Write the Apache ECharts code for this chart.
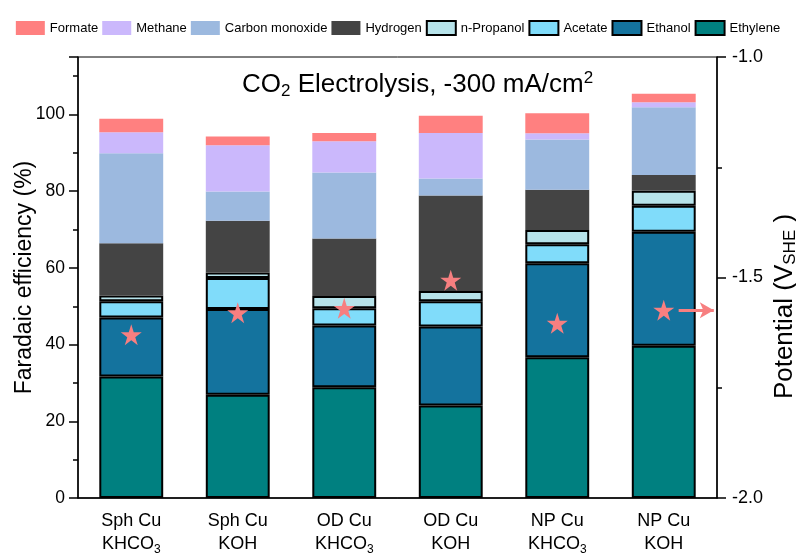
<!DOCTYPE html>
<html>
<head>
<meta charset="utf-8">
<script src="https://cdn.jsdelivr.net/npm/echarts@6/dist/echarts.min.js"></script>
<style>
  html, body { margin: 0; padding: 0; background: #fff; }
  #chart { width: 796px; height: 559px; }
</style>
</head>
<body>
<div id="chart"></div>
<script>
// Catalyst / electrolyte pairs along the x axis
const catalysts   = ['Sph Cu', 'Sph Cu', 'OD Cu', 'OD Cu', 'NP Cu', 'NP Cu'];
const electrolytes = ['KHCO3', 'KOH', 'KHCO3', 'KOH', 'KHCO3', 'KOH'];

// Faradaic efficiency (%) of each product, stacked bottom to top
const ethylene   = [31.7, 26.9, 28.9, 24.1, 36.7, 39.7];
const ethanol    = [15.4, 22.4, 16.1, 20.6, 24.5, 29.7];
const acetate    = [4.2, 8.1, 4.5, 6.6, 5.0, 6.8];
const nPropanol  = [1.5, 1.4, 3.2, 2.7, 3.7, 3.9];
const hydrogen   = [13.6, 13.5, 15.0, 24.9, 10.5, 4.1];
const carbonMono = [23.5, 7.6, 17.2, 4.4, 13.1, 17.7];
const methane    = [5.5, 12.1, 8.1, 11.9, 1.6, 1.3];
const formate    = [3.5, 2.3, 2.2, 4.5, 5.2, 2.2];

// Cathode potential (V vs SHE) for each condition
const potentials = [-1.63, -1.58, -1.57, -1.506, -1.604, -1.574];

// Axis tick settings
const feTicks = { min: 0, max: 115, interval: 20 };
const potTicks = { min: -2.0, max: -1.0, interval: 0.5 };

const FONT = 'Liberation Sans, Arial, sans-serif';
const STAR = 'path://M50,0 L61.2,34.5 L97.6,34.5 L68.2,55.9 L79.4,90.5 L50,69.1 L20.6,90.5 L31.8,55.9 L2.4,34.5 L38.8,34.5 Z';

function subscriptDigits(s) {
  // chemical formula digits become subscript tokens
  return s.replace(/(\d)/g, '}{s|$1}{n|');
}

const categories = catalysts.map((c, i) => c + '|' + electrolytes[i]);

const stackDefs = [
  { name: 'Ethylene',        data: ethylene,   color: '#008080', border: true },
  { name: 'Ethanol',         data: ethanol,    color: '#14739e', border: true },
  { name: 'Acetate',         data: acetate,    color: '#80dcfa', border: true },
  { name: 'n-Propanol',      data: nPropanol,  color: '#b7e3ea', border: true },
  { name: 'Hydrogen',        data: hydrogen,   color: '#444444', border: false },
  { name: 'Carbon monoxide', data: carbonMono, color: '#9cb9df', border: false },
  { name: 'Methane',         data: methane,    color: '#cbb8fc', border: false },
  { name: 'Formate',         data: formate,    color: '#ff8080', border: false }
];

const barSeries = stackDefs.map(d => ({
  name: d.name,
  type: 'bar',
  stack: 'fe',
  barWidth: '60%',
  xAxisIndex: 0,
  yAxisIndex: 0,
  data: d.data,
  itemStyle: {
    color: d.color,
    borderColor: d.border ? '#000' : d.color,
    borderWidth: d.border ? 2 : 0
  },
  emphasis: { disabled: true }
}));

const tickStyle = { color: '#000', width: 1.5 };

const chart = echarts.init(document.getElementById('chart'), null, { renderer: 'canvas' });

chart.setOption({
  animation: false,
  backgroundColor: '#fff',
  textStyle: { fontFamily: FONT, color: '#000' },
  title: {
    text: '{n|CO}{s|2}{n| Electrolysis, -300 mA/cm}{p|2}',
    left: 237,
    top: 64,
    textStyle: {
      fontWeight: 'normal',
      rich: {
        n: { fontFamily: FONT, fontSize: 26, fontWeight: 'normal', color: '#000' },
        s: { fontFamily: FONT, fontSize: 17, fontWeight: 'normal', color: '#000', padding: [14, 0, 0, 0] },
        p: { fontFamily: FONT, fontSize: 17, fontWeight: 'normal', color: '#000', padding: [0, 0, 12, 0] }
      }
    }
  },
  legend: {
    top: 15,
    left: 'center',
    itemWidth: 29,
    itemHeight: 14,
    itemGap: 4,
    icon: 'rect',
    textStyle: { fontFamily: FONT, fontSize: 13, color: '#000' },
    data: ['Formate', 'Methane', 'Carbon monoxide', 'Hydrogen', 'n-Propanol', 'Acetate', 'Ethanol', 'Ethylene']
  },
  grid: {
    left: 78, right: 79, top: 57, bottom: 61,
    containLabel: false,
    outerBoundsMode: 'none',
    show: true, borderColor: '#000', borderWidth: 1
  },
  xAxis: [
    {
      type: 'category',
      data: categories,
      axisLine: { onZero: false, lineStyle: { color: '#000', width: 1.5 } },
      axisTick: { alignWithLabel: true, length: 8, lineStyle: tickStyle },
      axisLabel: {
        interval: 0,
        margin: 12,
        color: '#000',
        lineHeight: 23,
        formatter: v => {
          const [c, e] = v.split('|');
          return '{n|' + c + '}\n{n|' + subscriptDigits(e) + '}';
        },
        rich: {
          n: { fontFamily: FONT, fontSize: 18, color: '#000', lineHeight: 23 },
          s: { fontFamily: FONT, fontSize: 12, color: '#000', lineHeight: 23, padding: [10, 0, 0, 0] }
        }
      }
    },
    {
      type: 'category',
      data: categories,
      position: 'bottom',
      axisLine: { show: false, onZero: false },
      axisTick: { interval: 0, length: 4, lineStyle: tickStyle },
      axisLabel: { show: false }
    },
    {
      type: 'value',
      min: -0.5,
      max: 5.5,
      show: false,
      axisLine: { onZero: false }
    }
  ],
  yAxis: [
    {
      type: 'value',
      min: feTicks.min,
      max: feTicks.max,
      interval: feTicks.interval,
      name: 'Faradaic efficiency (%)',
      nameLocation: 'middle',
      nameRotate: 90,
      nameGap: 42,
      nameMoveOverlap: false,
      nameTextStyle: { fontFamily: FONT, fontSize: 23, color: '#000' },
      axisLine: { show: true, onZero: false, lineStyle: { color: '#000', width: 1.5 } },
      axisTick: { show: true, length: 9, lineStyle: tickStyle },
      minorTick: { show: true, splitNumber: 2, length: 5, lineStyle: tickStyle },
      splitLine: { show: false },
      axisLabel: {
        fontFamily: FONT, fontSize: 17.5, color: '#000', margin: 13,
        formatter: v => (v % feTicks.interval === 0 ? String(v) : '')
      }
    },
    {
      type: 'value',
      min: potTicks.min,
      max: potTicks.max,
      interval: potTicks.interval,
      position: 'right',
      name: 'Potential (V{s|SHE} )',
      nameLocation: 'middle',
      nameRotate: 90,
      nameGap: 54,
      nameMoveOverlap: false,
      nameTextStyle: {
        fontFamily: FONT, fontSize: 26, color: '#000',
        padding: [0, 58, 0, 0],
        rich: { s: { fontFamily: FONT, fontSize: 17, color: '#000', padding: [11, 0, 0, 0] } }
      },
      axisLine: { show: true, onZero: false, lineStyle: { color: '#000', width: 1.5 } },
      axisTick: { show: true, length: 9, lineStyle: tickStyle },
      minorTick: { show: true, splitNumber: 2, length: 5, lineStyle: tickStyle },
      splitLine: { show: false },
      axisLabel: {
        fontFamily: FONT, fontSize: 18, color: '#000', margin: 15,
        formatter: v => v.toFixed(1)
      }
    }
  ],
  series: [
    ...barSeries,
    {
      name: 'Potential',
      type: 'scatter',
      xAxisIndex: 0,
      yAxisIndex: 1,
      symbol: STAR,
      symbolSize: 21,
      itemStyle: { color: '#f77f80', opacity: 1 },
      data: potentials,
      z: 10
    },
    {
      name: 'arrow',
      type: 'line',
      xAxisIndex: 2,
      yAxisIndex: 1,
      data: [],
      silent: true,
      markLine: {
        silent: true,
        symbol: ['none', 'arrow'],
        symbolSize: [12, 14],
        label: { show: false },
        lineStyle: { color: '#f77f80', width: 3, type: 'solid', opacity: 1 },
        data: [[
          { coord: [5.14, potentials[5]] },
          { coord: [5.47, potentials[5]] }
        ]]
      },
      z: 10
    }
  ]
});
</script>
</body>
</html>
